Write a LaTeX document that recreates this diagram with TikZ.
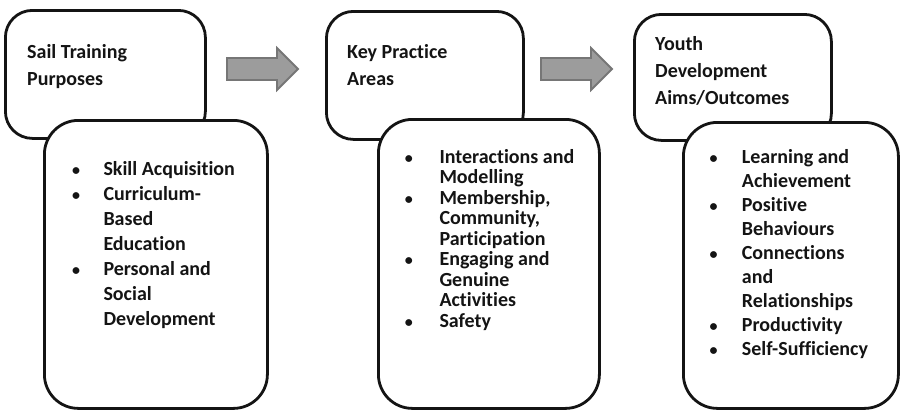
\documentclass[tikz,border=0pt]{standalone}
\usepackage{fontspec}
\setmainfont[Ligatures=NoCommon]{Carlito}
\usepackage{graphicx}
\definecolor{arrowfill}{RGB}{156,156,156}
\definecolor{arrowline}{RGB}{118,118,118}
\definecolor{ink}{RGB}{20,20,20}
\newlength\bulw
\newcommand\blt{\makebox[\bulw][l]{\makebox[0pt]{\scalebox{0.8}{\textbullet}}}}
\begin{document}
\begin{tikzpicture}[x=1pt,y=-1pt,
  topbox/.style={draw=ink, line width=2.8pt, rounded corners=27pt, anchor=north west, inner sep=0pt},
  botbox/.style={draw=ink, fill=white, line width=2.8pt, rounded corners=34pt, anchor=north west, inner sep=0pt},
  blockarrow/.style={fill=arrowfill, draw=arrowline, line width=1.8pt, line join=miter},
  titletext/.style={anchor=base west, inner sep=0pt, text=ink, font=\bfseries\fontsize{20}{27}\selectfont},
  listtext/.style={anchor=base west, inner sep=0pt, text=ink, font=\bfseries\fontsize{20}{25}\selectfont},
]
\useasboundingbox (0,0) rectangle (900,410);

% top boxes
\node[topbox, minimum width=200pt, minimum height=128pt] (t1) at (4,9) {};
\node[topbox, minimum width=197pt, minimum height=128pt] (t2) at (325,10) {};
\node[topbox, minimum width=197pt, minimum height=126pt] (t3) at (633,13) {};

% bottom boxes
\node[botbox, minimum width=223pt, minimum height=288pt] (b1) at (43,119) {};
\node[botbox, minimum width=221pt, minimum height=289pt] (b2) at (377,118) {};
\node[botbox, minimum width=215pt, minimum height=286pt] (b3) at (682,121) {};

% block arrows
\path[blockarrow] (227,58) -- (277,58) -- (277,48) -- (298,69) -- (277,90) -- (277,80) -- (227,80) -- cycle;
\path[blockarrow] (541,58) -- (591,58) -- (591,48) -- (612,69) -- (591,90) -- (591,80) -- (541,80) -- cycle;

% titles
\node[titletext] (h1) at (27,58) {\begin{tabular}[t]{@{}l@{}}Sail Training\\Purposes\end{tabular}};
\node[titletext] (h2) at (347,58) {\begin{tabular}[t]{@{}l@{}}Key Practice\\Areas\end{tabular}};
\node[titletext] (h3) at (655,50) {\begin{tabular}[t]{@{}l@{}}Youth\\Development\\Aims/Outcomes\end{tabular}};

% lists
\node[listtext] (l1) at (76,175) {\setlength\bulw{27.3pt}\begin{tabular}[t]{@{}l@{}l@{}}
\blt & Skill Acquisition\\
\blt & Curriculum-\\
 & Based\\
 & Education\\
\blt & Personal and\\
 & Social\\
 & Development
\end{tabular}};

\node[listtext, font=\bfseries\fontsize{20}{20.5}\selectfont] (l2) at (408.7,163) {\setlength\bulw{30.6pt}\begin{tabular}[t]{@{}l@{}l@{}}
\blt & Interactions and\\
 & Modelling\\
\blt & Membership,\\
 & Community,\\
 & Participation\\
\blt & Engaging and\\
 & Genuine\\
 & Activities\\
\blt & Safety
\end{tabular}};

\node[listtext, font=\bfseries\fontsize{20}{24}\selectfont] (l3) at (713.3,163) {\setlength\bulw{28.4pt}\begin{tabular}[t]{@{}l@{}l@{}}
\blt & Learning and\\
 & Achievement\\
\blt & Positive\\
 & Behaviours\\
\blt & Connections\\
 & and\\
 & Relationships\\
\blt & Productivity\\
\blt & Self-Sufficiency
\end{tabular}};
\end{tikzpicture}
\end{document}
